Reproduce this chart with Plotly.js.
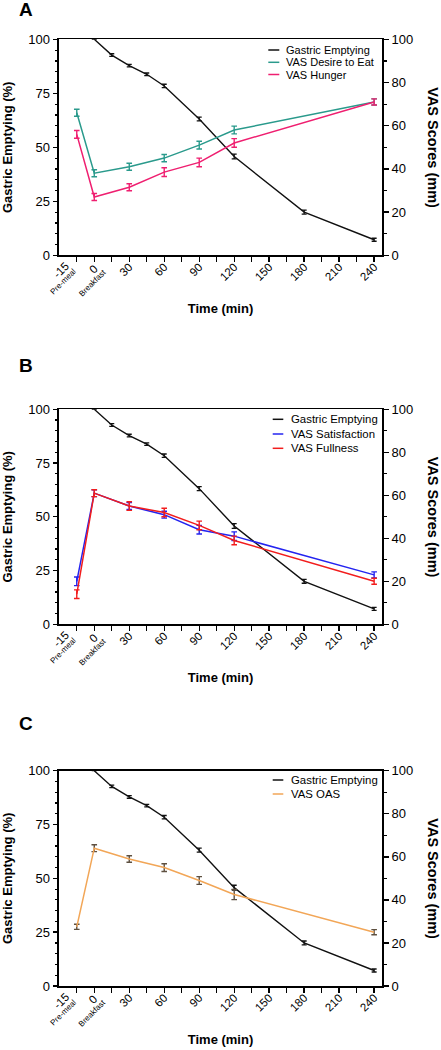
<!DOCTYPE html>
<html>
<head>
<meta charset="utf-8">
<script src="https://cdn.plot.ly/plotly-3.0.1.min.js"></script>
<style>html,body{margin:0;padding:0;background:#fff;}#chart{width:441px;height:1050px;}</style>
</head>
<body>
<div id="chart"></div>
<script>
// ---------- DATA ----------
const vasTime = [-15, 0, 30, 60, 90, 120, 240];
const geTime = [0, 15, 30, 45, 60, 90, 120, 180, 240];
const geValues = [100, 92.7, 87.8, 83.8, 78.4, 63.1, 45.7, 20, 7.2];
const geErr = [0, 0.6, 0.6, 0.6, 0.8, 0.9, 1.1, 0.9, 0.7];

const desireValues = [66, 38, 41, 45, 51, 58, 71];
const desireErr = [1.6, 1.6, 1.6, 1.7, 1.8, 1.8, 1.4];
const hungerValues = [56, 27, 31.5, 38.5, 43, 52, 71];
const hungerErr = [1.8, 1.6, 1.6, 2.0, 2.0, 2.0, 1.4];

const satisfactionValues = [20, 61, 55, 51, 44, 41, 23];
const satisfactionErr = [2.0, 1.6, 1.6, 1.6, 2.0, 2.0, 1.4];
const fullnessValues = [14, 61, 55, 52, 46, 39, 20];
const fullnessErr = [2.0, 1.6, 2.0, 2.0, 2.0, 2.0, 1.4];

const oasValues = [27.5, 64, 59, 55, 49, 42.5, 25];
const oasErr = [1.2, 1.6, 1.5, 1.8, 1.8, 2.4, 1.2];

const xTickVals = [-15, 0, 15, 30, 45, 60, 75, 90, 105, 120, 135, 150, 165, 180, 195, 210, 225, 240];
const xTickText = ['', '', '', '30', '', '60', '', '90', '', '120', '', '150', '', '180', '', '210', '', '240'];
// first two ticks carry a two-line label (number + phase name)
const phaseNumbers = ['-15', '0'];
const phaseLabels = ['Pre-meal', 'Breakfast'];

const panelLetters = ['A', 'B', 'C'];
const legendNamesA = ['Gastric Emptying', 'VAS Desire to Eat', 'VAS Hunger'];
const legendNamesB = ['Gastric Emptying', 'VAS Satisfaction', 'VAS Fullness'];
const legendNamesC = ['Gastric Emptying', 'VAS OAS'];

// ---------- STYLE ----------
const FONT = 'Liberation Sans, Arial, Helvetica, sans-serif';
const W = 441, H = 1050;
const colBlack = '#111111';
const colTeal = '#2a9a8c';
const colPink = '#ef1f70';
const colBlue = '#2424f0';
const colRed = '#f21d1d';
const colOrange = '#f2a657';
const colOasErr = '#5e5040';

const px = v => v / W;
const py = v => 1 - v / H;

// panel pixel boxes (top, bottom)
const panels = [
  {top: 39.3, bottom: 255.3},
  {top: 409.3, bottom: 624.3},
  {top: 770.7, bottom: 986.0}
];
const xDomain = [px(58.7), px(382.3)];

function geTrace(xa, ya) {
  return {
    x: geTime, y: geValues, xaxis: xa, yaxis: ya, type: 'scatter', mode: 'lines',
    name: 'Gastric Emptying', showlegend: false, cliponaxis: false,
    line: {color: colBlack, width: 1.4},
    error_y: {type: 'data', array: geErr, visible: true, color: colBlack, thickness: 1.3, width: 2.5}
  };
}
function vasTrace(vals, errs, name, col, errCol, xa, ya) {
  return {
    x: vasTime, y: vals, xaxis: xa, yaxis: ya, type: 'scatter', mode: 'lines',
    name: name, showlegend: false, cliponaxis: false,
    line: {color: col, width: 1.5},
    error_y: {type: 'data', array: errs, visible: true, color: errCol, thickness: 1.4, width: 2.8}
  };
}

const traces = [
  geTrace('x', 'y'),
  vasTrace(desireValues, desireErr, 'VAS Desire to Eat', colTeal, colTeal, 'x', 'y2'),
  vasTrace(hungerValues, hungerErr, 'VAS Hunger', colPink, colPink, 'x', 'y2'),
  geTrace('x2', 'y3'),
  vasTrace(satisfactionValues, satisfactionErr, 'VAS Satisfaction', colBlue, colBlue, 'x2', 'y4'),
  vasTrace(fullnessValues, fullnessErr, 'VAS Fullness', colRed, colRed, 'x2', 'y4'),
  geTrace('x3', 'y5'),
  vasTrace(oasValues, oasErr, 'VAS OAS', colOrange, colOasErr, 'x3', 'y6')
];

function xAxis(yname) {
  return {
    domain: xDomain, anchor: yname, range: [-30.5, 247], fixedrange: true,
    tickmode: 'array', tickvals: xTickVals, ticktext: xTickText, tickangle: -45,
    ticklabelstandoff: -6,
    ticks: 'outside', ticklen: 5, tickwidth: 1.4, tickcolor: '#000',
    showline: true, linewidth: 1.6, linecolor: '#000', mirror: true,
    showgrid: false, zeroline: false,
    tickfont: {family: FONT, size: 11.5, color: '#000'},
    title: {text: '<b>Time (min)</b>', font: {family: FONT, size: 13, color: '#000'}, standoff: 22}
  };
}
function yLeft(xname, p) {
  return {
    domain: [py(p.bottom), py(p.top)], anchor: xname, range: [0, 100], fixedrange: true,
    tickmode: 'linear', tick0: 0, dtick: 25,
    ticks: 'outside', ticklen: 4.5, tickwidth: 1.4, tickcolor: '#000',
    minor: {dtick: 5, tick0: 0, ticks: 'outside', ticklen: 2.5, tickwidth: 1.2, tickcolor: '#000', showgrid: false},
    showline: true, linewidth: 1.6, linecolor: '#000',
    showgrid: false, zeroline: false,
    tickfont: {family: FONT, size: 13, color: '#000'},
    title: {text: '<b>Gastric Emptying (%)</b>', font: {family: FONT, size: 13, color: '#000'}, standoff: 14}
  };
}
function yRight(xname, overl, p) {
  return {
    domain: [py(p.bottom), py(p.top)], anchor: xname, overlaying: overl, side: 'right',
    range: [0, 100], fixedrange: true,
    tickmode: 'linear', tick0: 0, dtick: 20,
    ticks: 'outside', ticklen: 5, tickwidth: 1.4, tickcolor: '#000',
    minor: {dtick: 10, tick0: 0, ticks: 'outside', ticklen: 3, tickwidth: 1.2, tickcolor: '#000', showgrid: false},
    showline: true, linewidth: 1.6, linecolor: '#000',
    showgrid: false, zeroline: false,
    tickfont: {family: FONT, size: 13, color: '#000'}
  };
}

const annotations = [];
const shapes = [];

// panel letters
const letterY = [10, 366, 723.7];
panelLetters.forEach((t, i) => {
  annotations.push({text: '<b>' + t + '</b>', xref: 'paper', yref: 'paper', x: px(25.5), y: py(letterY[i]),
    xanchor: 'center', yanchor: 'middle', showarrow: false, font: {family: FONT, size: 19, color: '#000'}});
});

// right axis titles
panels.forEach(p => {
  annotations.push({text: '<b>VAS Scores (mm)</b>', xref: 'paper', yref: 'paper', x: px(433), y: py((p.top + p.bottom) / 2),
    xanchor: 'center', yanchor: 'middle', textangle: 90, showarrow: false, font: {family: FONT, size: 14.5, color: '#000'}});
});

// two-line labels under the -15 and 0 ticks
const numPos = [{dx: -28.4, sh: 15}, {dx: -0.7, sh: 13.5}];
const subPos = [{dx: -26.4, sh: 26.5}, {dx: -1.1, sh: 27}];
['x', 'x2', 'x3'].forEach((xa, k) => {
  const yd = ['y', 'y3', 'y5'][k];
  phaseNumbers.forEach((n, i) => {
    annotations.push({text: n, xref: xa, yref: yd + ' domain', x: numPos[i].dx, y: 0, yshift: -numPos[i].sh,
      xanchor: 'center', yanchor: 'middle', textangle: -45, showarrow: false, font: {family: FONT, size: 11.5, color: '#000'}});
  });
  phaseLabels.forEach((s, i) => {
    annotations.push({text: s, xref: xa, yref: yd + ' domain', x: subPos[i].dx, y: 0, yshift: -subPos[i].sh,
      xanchor: 'center', yanchor: 'middle', textangle: -45, showarrow: false, font: {family: FONT, size: 8, color: '#000'}});
  });
});

// custom legends
function addLegend(names, colors, rowsY, lineX0, lineX1, textX, fsize) {
  names.forEach((n, i) => {
    shapes.push({type: 'line', xref: 'paper', yref: 'paper', x0: px(lineX0), x1: px(lineX1), y0: py(rowsY[i]), y1: py(rowsY[i]),
      line: {color: colors[i], width: 1.5}});
    annotations.push({text: n, xref: 'paper', yref: 'paper', x: px(textX), y: py(rowsY[i]), xanchor: 'left', yanchor: 'middle',
      showarrow: false, font: {family: FONT, size: fsize, color: '#000'}});
  });
}
addLegend(legendNamesA, [colBlack, colTeal, colPink], [50, 62.3, 74.5], 268.3, 279.3, 284, 11);
addLegend(legendNamesB, [colBlack, colBlue, colRed], [419.3, 434, 448.3], 272.7, 283.3, 289, 11.4);
addLegend(legendNamesC, [colBlack, colOrange], [780, 794], 272.7, 283.3, 289, 11.4);

const layout = {
  width: W, height: H, margin: {l: 0, r: 0, t: 0, b: 0},
  paper_bgcolor: '#fff', plot_bgcolor: 'rgba(0,0,0,0)',
  showlegend: false,
  font: {family: FONT, color: '#000'},
  xaxis: xAxis('y'), xaxis2: xAxis('y3'), xaxis3: xAxis('y5'),
  yaxis: yLeft('x', panels[0]), yaxis2: yRight('x', 'y', panels[0]),
  yaxis3: yLeft('x2', panels[1]), yaxis4: yRight('x2', 'y3', panels[1]),
  yaxis5: yLeft('x3', panels[2]), yaxis6: yRight('x3', 'y5', panels[2]),
  annotations: annotations, shapes: shapes
};

Plotly.newPlot('chart', traces, layout, {staticPlot: true, displayModeBar: false});
</script>
</body>
</html>
